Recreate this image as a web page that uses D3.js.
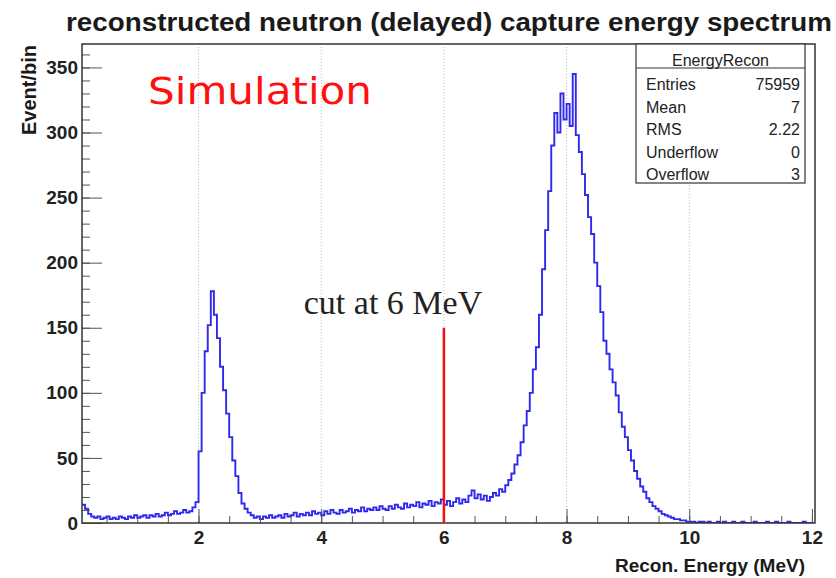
<!DOCTYPE html>
<html>
<head>
<meta charset="utf-8">
<script src="https://cdn.jsdelivr.net/npm/d3@7"></script>
<style>
  body { margin: 0; background: #fff; }
  svg { display: block; }
</style>
</head>
<body>
<div id="main"></div>
<script>
// histogram bins: 0.05 MeV wide, first bin starts at 0.1 MeV
var binStart = 0.1, binWidth = 0.05;
var counts = [
  14,11,7,5,4,5,3,4,5,3,4,3,5,4,3,5,4,6,                         // 0.10 - 0.95
  4,5,6,4,6,5,7,5,6,8,6,7,9,7,8,10,8,9,12,16,                    // 1.00 - 1.95
  55,100,132,152,178,160,142,120,102,84,66,48,36,23,15,11,8,6,4,5, // 2.00 - 2.95
  3,5,4,6,4,5,6,4,7,5,6,8,5,7,6,8,6,9,7,8,                       // 3.00 - 3.95
  6,9,7,10,8,7,10,8,9,11,8,10,9,12,9,11,10,12,10,13,             // 4.00 - 4.95
  11,10,13,11,14,12,11,15,12,14,13,16,12,15,14,17,13,16,15,18,   // 5.00 - 5.95
  14,17,13,16,19,15,18,16,21,25,19,22,18,21,17,20,23,21,26,24,   // 6.00 - 6.95
  29,33,38,45,52,62,75,86,100,118,135,160,195,225,255,290,315,300,330,310, // 7.00 - 7.95
  322,305,345,298,285,268,252,235,222,200,182,162,140,130,118,108,98,85,74,66, // 8.00 - 8.95
  56,48,40,34,28,24,19,16,13,11,9,7,6,5,4,3,3,2,2,1,             // 9.00 - 9.95
  1,1,0,1,1,0,1,0,0,1,0,1,0,0,1,0,0,1,0,0,                       // 10.00 - 10.95
  0,1,0,0,0,1,0,0,1,0,0,0,1,0,0,0,0,1,0,0                        // 11.00 - 11.95
];

var xTicks = [2, 4, 6, 8, 10, 12];
var yTicks = [0, 50, 100, 150, 200, 250, 300, 350];
var gridX = [2, 4, 6, 8, 10];

var cutEnergy = 6, cutHeight = 150;

var statLabels = ["Entries", "Mean", "RMS", "Underflow", "Overflow"];
var statValues = ["75959", "7", "2.22", "0", "3"];

var W = 836, H = 578;
var plot = {left: 82, right: 815, top: 44, bottom: 523};

var svg = d3.select("#main")
  .append("svg")
    .attr("width", W)
    .attr("height", H)
    .style("font-family", "'Liberation Sans', Arial, sans-serif");

var x = d3.scaleLinear().domain([0.1, 12.05]).range([plot.left, plot.right]);
var y = d3.scaleLinear().domain([0, 368]).range([plot.bottom, plot.top]);

svg.append("defs").append("clipPath").attr("id", "clip")
  .append("rect")
    .attr("x", plot.left).attr("y", plot.top)
    .attr("width", plot.right - plot.left).attr("height", plot.bottom - plot.top);

// dotted vertical grid
svg.append("g").selectAll("line")
  .data(gridX).enter().append("line")
    .attr("x1", function(d) { return x(d); })
    .attr("x2", function(d) { return x(d); })
    .attr("y1", plot.top)
    .attr("y2", plot.bottom)
    .style("stroke", "#bdbdbd")
    .style("stroke-width", 1)
    .style("stroke-dasharray", "1,2");

// histogram as steps
var pts = counts.map(function(c, i) { return [binStart + i * binWidth, c]; });
pts.push([binStart + counts.length * binWidth, counts[counts.length - 1]]);

var line = d3.line()
  .x(function(d) { return x(d[0]); })
  .y(function(d) { return y(d[1]); })
  .curve(d3.curveStepAfter);

svg.append("path")
  .datum(pts)
  .attr("clip-path", "url(#clip)")
  .attr("d", line)
  .style("fill", "none")
  .style("stroke", "#2f28ee")
  .style("stroke-width", 1.9);

// x axis: major + minor ticks pointing up
svg.append("g")
  .attr("transform", "translate(0," + plot.bottom + ")")
  .call(d3.axisBottom(x).tickValues(d3.range(0.5, 12.01, 0.5)).tickSize(-7).tickFormat(""))
  .call(function(g) { g.select(".domain").remove(); })
  .selectAll("line").style("stroke", "#555");

var xAx = svg.append("g")
  .attr("transform", "translate(0," + plot.bottom + ")")
  .call(d3.axisBottom(x).tickValues(xTicks).tickSize(-14).tickPadding(8));
xAx.select(".domain").remove();
xAx.selectAll("line").style("stroke", "#555");
xAx.selectAll("text")
  .style("font-size", "19px")
  .style("font-weight", "bold")
  .style("fill", "#222")
  .attr("font-family", null);

// y axis: major + minor ticks pointing right
svg.append("g")
  .attr("transform", "translate(" + plot.left + ",0)")
  .call(d3.axisLeft(y).tickValues(d3.range(10, 361, 10)).tickSize(-8).tickFormat(""))
  .call(function(g) { g.select(".domain").remove(); })
  .selectAll("line").style("stroke", "#555");

var yAx = svg.append("g")
  .attr("transform", "translate(" + plot.left + ",0)")
  .call(d3.axisLeft(y).tickValues(yTicks).tickSize(-20).tickPadding(4));
yAx.select(".domain").remove();
yAx.selectAll("line").style("stroke", "#555");
yAx.selectAll("text")
  .style("font-size", "19px")
  .style("font-weight", "bold")
  .style("fill", "#222")
  .attr("font-family", null);

// frame
svg.append("rect")
  .attr("x", plot.left).attr("y", plot.top)
  .attr("width", plot.right - plot.left).attr("height", plot.bottom - plot.top)
  .style("fill", "none")
  .style("stroke", "#333")
  .style("stroke-width", 1.5);

// cut line
svg.append("line")
  .attr("x1", x(cutEnergy)).attr("x2", x(cutEnergy))
  .attr("y1", y(0)).attr("y2", y(cutHeight))
  .style("stroke", "#f01010")
  .style("stroke-width", 2.5);

svg.append("text")
  .attr("x", 393).attr("y", 314)
  .attr("text-anchor", "middle")
  .style("font-family", "'Liberation Serif', 'Times New Roman', serif")
  .style("font-size", "34px")
  .style("fill", "#222")
  .text("cut at 6 MeV");

// title
svg.append("text")
  .attr("x", 66).attr("y", 31)
  .attr("textLength", 766)
  .attr("lengthAdjust", "spacingAndGlyphs")
  .style("font-size", "25px")
  .style("font-weight", "bold")
  .style("fill", "#1a1a1a")
  .text("reconstructed neutron (delayed) capture energy spectrum");

// Simulation tag
svg.append("text")
  .attr("x", 148).attr("y", 104)
  .attr("textLength", 224)
  .attr("lengthAdjust", "spacingAndGlyphs")
  .style("font-family", "'DejaVu Sans', sans-serif")
  .style("font-size", "38px")
  .style("fill", "#ff1010")
  .text("Simulation");

// axis titles
svg.append("text")
  .attr("transform", "rotate(-90)")
  .attr("x", -45).attr("y", 36)
  .attr("text-anchor", "end")
  .style("font-size", "20px")
  .style("font-weight", "bold")
  .style("fill", "#1a1a1a")
  .text("Event/bin");

svg.append("text")
  .attr("x", 805).attr("y", 572)
  .attr("text-anchor", "end")
  .style("font-size", "19px")
  .style("font-weight", "bold")
  .style("fill", "#1a1a1a")
  .text("Recon. Energy (MeV)");

// stats box
var box = {x: 636, y: 44, w: 169, h: 139};
var sb = svg.append("g");
sb.append("rect")
  .attr("x", box.x).attr("y", box.y).attr("width", box.w).attr("height", box.h)
  .style("fill", "#fff")
  .style("stroke", "#333")
  .style("stroke-width", 1.2);
sb.append("line")
  .attr("x1", box.x).attr("x2", box.x + box.w)
  .attr("y1", 68).attr("y2", 68)
  .style("stroke", "#333").style("stroke-width", 1);
sb.append("text")
  .attr("x", box.x + box.w / 2).attr("y", 66)
  .attr("text-anchor", "middle")
  .style("font-size", "16px")
  .style("fill", "#222")
  .text("EnergyRecon");
sb.selectAll(".slab")
  .data(statLabels).enter().append("text")
    .attr("class", "slab")
    .attr("x", box.x + 10)
    .attr("y", function(d, i) { return 90 + i * 22.5; })
    .style("font-size", "16px")
    .style("fill", "#222")
    .text(function(d) { return d; });
sb.selectAll(".sval")
  .data(statValues).enter().append("text")
    .attr("class", "sval")
    .attr("x", box.x + box.w - 5)
    .attr("y", function(d, i) { return 90 + i * 22.5; })
    .attr("text-anchor", "end")
    .style("font-size", "16px")
    .style("fill", "#222")
    .text(function(d) { return d; });
</script>
</body>
</html>
